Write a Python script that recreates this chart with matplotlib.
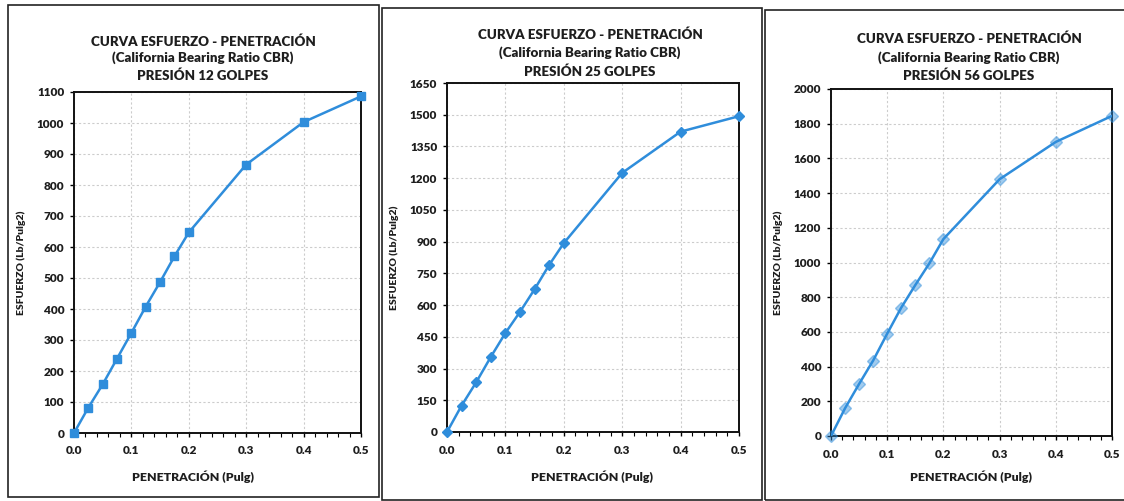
import matplotlib.pyplot as plt
from matplotlib.patches import Rectangle
from matplotlib.ticker import MultipleLocator

plt.rcParams['font.family'] = ['Lato', 'DejaVu Sans']
plt.rcParams['font.weight'] = 'heavy'

# penetracion (pulg)
penetracion = [0.0, 0.025, 0.05, 0.075, 0.1, 0.125, 0.15, 0.175, 0.2, 0.3, 0.4, 0.5]

# esfuerzo (lb/pulg2) por numero de golpes
esfuerzo_12 = [0, 82, 157, 240, 323, 408, 487, 570, 647, 866, 1003, 1086]
esfuerzo_25 = [0, 125, 235, 355, 468, 568, 675, 790, 893, 1225, 1420, 1493]
esfuerzo_56 = [0, 160, 300, 435, 590, 740, 870, 995, 1135, 1480, 1695, 1845]

golpes = ['12', '25', '56']
series = [esfuerzo_12, esfuerzo_25, esfuerzo_56]
y_max = [1100, 1650, 2000]
y_step = [100, 150, 200]

W, H = 1124, 501
# pixel boxes: (left, top, right, bottom)
axes_px = [(74, 92, 361, 433), (447, 83, 739, 432), (831, 89, 1112, 436)]
panel_px = [(8, 5, 379, 497), (382, 8, 762, 500), (765, 10, 1130, 500)]
title_x = [203, 590, 969]
title_y = [(42, 58, 76), (35, 53, 72), (39, 58, 76)]
xlabel_x = [193, 592, 971]
markers = [('s', 6, 1.0), ('D', 5, 1.0), ('D', 6, 0.45)]
color = '#2f8ddb'
txt = '#1e1e1e'
wt = 'heavy'

fig = plt.figure(figsize=(W / 100, H / 100), dpi=100)
fig.patch.set_facecolor('white')

for i in range(3):
    pl, pt, pr, pb = panel_px[i]
    fig.patches.append(Rectangle((pl / W, 1 - pb / H), (pr - pl) / W, (pb - pt) / H,
                                 transform=fig.transFigure, fill=False,
                                 edgecolor='#222222', linewidth=1.2))

    l, t, r, b = axes_px[i]
    ax = fig.add_axes([l / W, 1 - b / H, (r - l) / W, (b - t) / H])
    mk, ms, alpha = markers[i]
    ax.plot(penetracion, series[i], color=color, linewidth=1.8, zorder=3)
    ax.plot(penetracion, series[i], linestyle='none', marker=mk, markersize=ms,
            color=color, alpha=alpha, zorder=4, clip_on=False)

    ax.set_xlim(0, 0.5)
    ax.set_ylim(0, y_max[i])
    ax.xaxis.set_major_locator(MultipleLocator(0.1))
    ax.xaxis.set_minor_locator(MultipleLocator(0.02))
    ax.yaxis.set_major_locator(MultipleLocator(y_step[i]))
    ax.set_xticks(ax.get_xticks())
    ax.set_xticklabels([f'{v:.1f}' for v in ax.get_xticks()])
    ax.set_xlim(0, 0.5)
    ax.grid(True, color='#cccccc', linestyle=(0, (2, 2)), linewidth=0.8)
    ax.tick_params(axis='both', which='major', labelsize=8.5, length=3, width=1,
                   pad=4, labelcolor=txt)
    ax.tick_params(axis='x', which='major', pad=6)
    ax.tick_params(axis='x', which='minor', length=3, width=0.8)
    for lab in ax.get_xticklabels() + ax.get_yticklabels():
        lab.set_fontweight(wt)
    for s in ax.spines.values():
        s.set_linewidth(1.4)
        s.set_color('#111111')

    t1, t2, t3 = title_y[i]
    cx = title_x[i] / W
    fig.text(cx, 1 - t1 / H, 'CURVA ESFUERZO - PENETRACIÓN', ha='center', va='center',
             fontsize=9.6, fontweight=wt, color=txt)
    fig.text(cx, 1 - t2 / H, '(California Bearing Ratio CBR)', ha='center', va='center',
             fontsize=9.6, fontweight=wt, color=txt)
    fig.text(cx, 1 - t3 / H, f'PRESIÓN {golpes[i]} GOLPES', ha='center', va='center',
             fontsize=9.6, fontweight=wt, color=txt)

    fig.text(xlabel_x[i] / W, 1 - 477 / H, 'PENETRACIÓN (Pulg)', ha='center', va='center',
             fontsize=8.8, fontweight=wt, color=txt)
    fig.text((l - 53) / W, 1 - ((t + b) / 2) / H, 'ESFUERZO (Lb/Pulg2)', ha='center',
             va='center', rotation=90, fontsize=7.5, fontweight=wt, color=txt)

fig.savefig('out.png', dpi=100)
